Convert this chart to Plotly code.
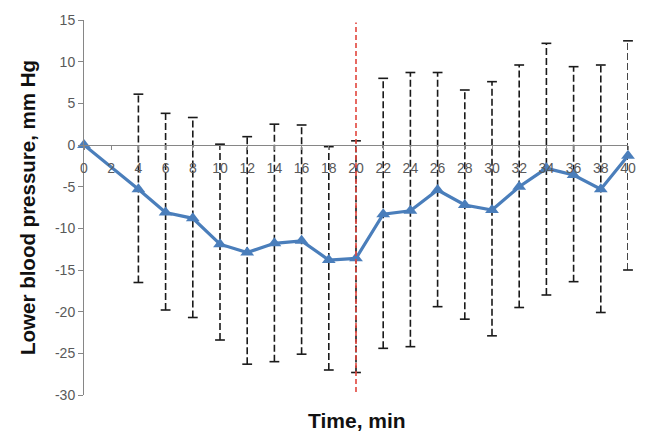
import plotly.graph_objects as go

# Time after start, min
time_min = [0, 4, 6, 8, 10, 12, 14, 16, 18, 20, 22, 24, 26, 28, 30, 32, 34, 36, 38, 40]
# Mean change in lower (diastolic) blood pressure, mm Hg
mean_change = [0.0, -5.3, -8.1, -8.8, -11.9, -12.9, -11.8, -11.5, -13.8, -13.6,
               -8.3, -7.9, -5.4, -7.2, -7.8, -5.0, -2.8, -3.6, -5.3, -1.3]
# Upper and lower ends of the spread around each mean
upper_end = [0.0, 6.1, 3.8, 3.3, 0.1, 1.0, 2.5, 2.4, -0.2, 0.5,
             8.0, 8.7, 8.7, 6.6, 7.6, 9.6, 12.2, 9.4, 9.6, 12.5]
lower_end = [0.0, -16.5, -19.8, -20.7, -23.4, -26.3, -26.0, -25.1, -27.0, -27.3,
             -24.4, -24.2, -19.4, -20.9, -22.9, -19.5, -18.0, -16.4, -20.1, -15.0]

y_ticks = [15, 10, 5, 0, -5, -10, -15, -20, -25, -30]
x_ticks = list(range(0, 41, 2))
event_time = 20

AXIS_GREY = "#868686"
LABEL_GREY = "#595959"
BLUE = "#4a7ebb"
FONT = "Liberation Sans, Arial, sans-serif"

fig = go.Figure()

# dashed whiskers, one segment per time point (skip points without spread)
wx, wy = [], []
cx, cy = [], []
for t, lo, hi in zip(time_min, lower_end, upper_end):
    if hi == lo:
        continue
    wx += [t, t, None]
    wy += [lo, hi, None]
    cx += [t, t]
    cy += [lo, hi]

fig.add_trace(go.Scatter(
    x=wx, y=wy, mode="lines",
    line=dict(color="#1a1a1a", width=1.6, dash="7px,3px"),
    hoverinfo="skip", showlegend=False,
))
fig.add_trace(go.Scatter(
    x=cx, y=cy, mode="markers",
    marker=dict(symbol="line-ew", size=7, line=dict(color="#1a1a1a", width=1.6)),
    hoverinfo="skip", showlegend=False, cliponaxis=False,
))

# mean curve
fig.add_trace(go.Scatter(
    x=time_min, y=mean_change, mode="lines+markers",
    line=dict(color=BLUE, width=3.2),
    marker=dict(symbol="triangle-up", size=12, color=BLUE),
    showlegend=False, cliponaxis=False,
))

# event marker at 20 min
fig.add_shape(
    type="line", xref="x", yref="y",
    x0=event_time, x1=event_time, y0=-30.6, y1=14.7,
    line=dict(color="#e2453c", width=1.6, dash="5px,3px"),
    layer="above",
)

fig.update_layout(
    width=648, height=434,
    margin=dict(l=84, r=17, t=20, b=39),
    paper_bgcolor="white", plot_bgcolor="white",
    font=dict(family=FONT, color=LABEL_GREY, size=14),
    xaxis=dict(
        range=[0, 40], tickvals=x_ticks, ticktext=[str(v) for v in x_ticks],
        showgrid=False, zeroline=False,
        showline=True, linecolor=AXIS_GREY, linewidth=1,
        ticks="outside", ticklen=4, tickcolor=AXIS_GREY,
        anchor="free", position=30 / 45,
        ticklabelstandoff=6,
        tickfont=dict(size=14, color=LABEL_GREY),
    ),
    yaxis=dict(
        range=[-30, 15], tickvals=y_ticks, ticktext=[str(v) for v in y_ticks],
        showgrid=False, zeroline=False,
        showline=True, linecolor=AXIS_GREY, linewidth=1,
        ticks="outside", ticklen=5, tickcolor=AXIS_GREY,
        tickfont=dict(size=14, color=LABEL_GREY),
    ),
    annotations=[
        dict(text="<b>Time, min</b>", xref="paper", yref="paper",
             x=0.501, y=-0.067, xanchor="center", yanchor="middle",
             showarrow=False, font=dict(size=21, color="#111111", family=FONT)),
        dict(text="<b>Lower blood pressure, mm Hg</b>", xref="paper", yref="paper",
             x=-0.104, y=0.5, xanchor="center", yanchor="middle", textangle=-90,
             showarrow=False, font=dict(size=20.5, color="#111111", family=FONT)),
    ],
)

fig.write_html("out.html")
